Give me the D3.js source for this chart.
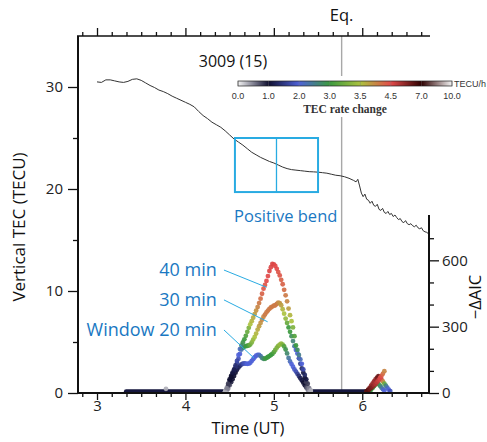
<!DOCTYPE html>
<html>
<head>
<meta charset="utf-8">
<script src="https://cdn.jsdelivr.net/npm/d3@7"></script>
<style>
  html, body { margin: 0; padding: 0; background: #fff; }
  svg { display: block; font-family: 'Open Sans', sans-serif; }
</style>
</head>
<body>
<div id="chart"></div>
<script>
// ── Data ──────────────────────────────────────────────────────
var TEC_T = [3.00,3.05,3.10,3.15,3.20,3.25,3.30,3.35,3.40,3.45,3.50,3.55,3.60,3.65,3.70,3.75,3.80,3.85,3.90,3.95,
             4.00,4.05,4.10,4.15,4.20,4.25,4.30,4.35,4.40,4.45,4.50,4.55,4.60,4.65,4.70,4.75,4.80,4.85,4.90,4.95,
             5.00,5.05,5.10,5.15,5.20,5.25,5.30,5.35,5.40,5.45,5.50,5.55,5.60,5.65,5.70,5.75,5.80,5.85,5.90,5.93,
             5.95,5.97,5.99,6.01,6.03,6.05,6.07,6.09,6.11,6.13,6.15,6.17,6.19,6.21,6.23,6.25,6.27,6.29,6.31,6.33,
             6.35,6.37,6.39,6.41,6.43,6.45,6.47,6.49,6.51,6.53,6.55,6.57,6.59,6.61,6.63,6.65,6.67,6.69,6.71,6.73,6.75];
var TEC_V = [30.5,30.45,30.7,30.7,30.6,30.5,30.45,30.55,30.75,30.8,30.65,30.4,30.15,29.95,29.7,29.55,29.35,29.1,28.9,28.7,
             28.5,28.3,28.05,27.6,27.2,26.9,26.55,26.3,26.05,25.7,25.3,24.9,24.6,24.3,23.95,23.6,23.35,23.1,22.9,22.7,
             22.55,22.35,22.15,22.0,21.9,21.85,21.8,21.75,21.7,21.68,21.65,21.6,21.55,21.45,21.35,21.3,21.2,21.05,20.85,20.7,
             20.95,20.3,19.6,19.25,19.5,19.0,18.9,18.6,18.8,18.4,18.3,18.5,18.0,17.9,18.1,17.7,17.6,17.8,17.5,17.6,
             17.3,17.45,17.2,17.0,17.1,16.8,16.7,16.9,16.6,16.5,16.6,16.4,16.3,16.45,16.2,16.1,16.2,15.9,15.8,15.75,15.6];

// -ΔAIC, one value per minute from AIC_T0
var AIC_T0 = 4.45;
var AIC40 = [0,15,35,55,70,85,100,118,138,165,192,208,222,236,252,270,288,304,318,334,350,366,382,400,420,442,465,482,500,522,
             545,562,577,575,568,555,540,525,505,485,460,435,408,375,345,318,290,250,208,188,165,145,125,100,75,55,35,15,5];
var AIC30 = [0,10,28,48,65,80,95,110,128,148,170,190,198,203,205,207,208,212,222,235,247,262,280,295,310,325,338,348,358,366,
             374,380,384,388,390,396,402,400,390,372,352,330,310,290,270,250,228,205,188,172,150,125,104,85,62,42,18,8,2];
var AIC20 = [0,0,12,28,42,55,70,85,98,108,116,122,126,127,126,125,126,130,138,146,155,162,166,165,160,152,148,148,152,156,
             160,165,170,178,188,198,206,212,216,212,204,190,172,152,136,124,112,100,90,80,70,60,50,40,28,18,8,3,0];
// TEC rate change (TECU/h) giving each dot its colour
var RATE40 = [0.3,0.5,0.8,1.0,1.0,1.1,1.2,1.4,1.7,2.0,2.2,2.6,2.9,3.0,3.1,3.2,3.3,3.5,3.6,3.7,3.8,3.9,4.0,4.1,4.2,4.3,4.4,4.4,4.5,4.5,
              4.6,4.6,4.6,4.6,4.5,4.5,4.4,4.4,4.3,4.3,4.2,4.1,4.0,3.8,3.6,3.5,3.3,3.1,3.0,2.8,2.5,2.2,2.0,1.7,1.3,1.1,0.8,0.5,0.3];
var RATE30 = [0.3,0.5,0.8,1.0,1.0,1.1,1.2,1.4,1.6,1.8,2.0,2.3,2.8,3.0,3.0,3.0,3.1,3.2,3.3,3.4,3.5,3.6,3.7,3.8,3.9,4.0,4.0,4.1,4.1,4.1,
              4.1,4.1,4.1,4.1,4.1,4.1,4.0,3.9,3.8,3.6,3.5,3.4,3.2,3.0,3.0,2.8,2.6,2.3,2.0,2.0,1.8,1.5,1.3,1.1,1.0,0.8,0.6,0.4,0.3];
var RATE20 = [0.3,0.3,0.5,0.7,0.9,1.0,1.0,1.0,1.1,1.2,1.3,1.5,1.7,1.8,1.9,2.0,2.0,2.0,2.0,2.0,2.0,2.0,2.0,2.1,2.3,2.5,2.7,2.9,3.0,3.0,
              3.0,3.0,3.0,3.1,3.2,3.3,3.3,3.4,3.4,3.3,3.1,2.9,2.7,2.4,2.2,2.0,2.0,1.9,1.8,1.6,1.4,1.2,1.1,1.0,1.0,0.8,0.6,0.4,0.3];

// small bump after the earthquake
var BUMP_T0 = 6.05;
var BUMP40 = [0,5,10,16,22,28,34,42,50,60,70,80,92];
var BUMP30 = [0,8,16,26,36,46,55,63,69,64,55,46,36,26,17,8,2];
var BUMP20 = [0,0,0,8,16,24,32,40,34,26,18,10,4];
var BRATE40 = [6.5,6.5,6.2,6.0,5.8,5.5,5.2,5.0,4.8,4.6,4.4,4.2,4.0];
var BRATE30 = [6.0,6.0,5.8,5.6,5.5,5.5,5.6,6.0,6.2,5.5,4.8,4.0,3.2,2.6,2.2,2.0,1.8];
var BRATE20 = [1.0,1.0,2.5,3.0,3.0,3.0,3.0,3.0,3.0,2.8,2.5,2.2,2.0];

var ZERO_SPANS = [[3.33, 4.45], [5.42, 6.05]];
var STRAY = [{ t: 3.78, v: 12, r: 0.3 }];

var EQ_TIME = 5.767;
var RATE_STOPS  = [0.0, 1.0, 2.0, 3.0, 3.5, 4.5, 7.0, 10.0];
var RATE_LABELS = ['0.0','1.0','2.0','3.0','3.5','4.5','7.0','10.0'];
var RATE_COLORS = ['#f4f4f4','#0f0f30','#4f62d8','#3c9a3f','#abc23f','#e24a4a','#2e0000','#f4f4f4'];

var WINDOW_LABELS = ['40 min', '30 min', 'Window 20 min'];

// ── Scales ────────────────────────────────────────────────────
var W = 487, H = 442;
var x  = d3.scaleLinear().domain([2.785, 6.755]).range([78, 429]);
var yL = d3.scaleLinear().domain([0, 35]).range([393, 36]);
var yR = d3.scaleLinear().domain([0, 805]).range([393, 215]);
var rateColor = d3.scaleLinear().domain(RATE_STOPS).range(RATE_COLORS).clamp(true);

var svg = d3.select('#chart').append('svg')
  .attr('width', W).attr('height', H);

// earthquake line
svg.append('line')
  .attr('x1', x(EQ_TIME)).attr('x2', x(EQ_TIME))
  .attr('y1', yL(35)).attr('y2', yL(0))
  .attr('stroke', '#a8a8a8').attr('stroke-width', 1.4);
svg.append('text')
  .attr('x', x(EQ_TIME)).attr('y', 21)
  .attr('text-anchor', 'middle').attr('font-size', 16.5).attr('fill', '#111')
  .text('Eq.');

// ── Colour bar ────────────────────────────────────────────────
var cbX = d3.scaleLinear().domain([0, RATE_STOPS.length - 1]).range([238, 452]);
var defs = svg.append('defs');
var grad = defs.append('linearGradient').attr('id', 'cbar');
RATE_COLORS.forEach(function(c, i) {
  grad.append('stop').attr('offset', (i / (RATE_COLORS.length - 1) * 100) + '%').attr('stop-color', c);
});
svg.append('rect').attr('x', 232).attr('y', 76).attr('width', 255).attr('height', 41).attr('fill', '#fff');
svg.append('rect')
  .attr('x', cbX(0)).attr('y', 81).attr('width', cbX(7) - cbX(0)).attr('height', 5)
  .attr('fill', 'url(#cbar)').attr('stroke', '#222').attr('stroke-width', 0.7);
svg.selectAll('.cbtick').data(RATE_LABELS).enter().append('line')
  .attr('x1', function(d, i) { return cbX(i); }).attr('x2', function(d, i) { return cbX(i); })
  .attr('y1', 81).attr('y2', 86).attr('stroke', 'rgba(120,120,120,0.6)').attr('stroke-width', 0.6);
svg.selectAll('.cblab').data(RATE_LABELS).enter().append('text')
  .attr('x', function(d, i) { return cbX(i); }).attr('y', 99)
  .attr('text-anchor', 'middle').attr('font-family', 'Liberation Sans, Arial, sans-serif')
  .attr('font-size', 9).attr('fill', '#333')
  .text(function(d) { return d; });
svg.append('text').attr('x', 454).attr('y', 86.5)
  .attr('font-family', 'Liberation Sans, Arial, sans-serif').attr('font-size', 9).attr('fill', '#333')
  .text('TECU/h');
svg.append('text').attr('x', 345).attr('y', 113)
  .attr('text-anchor', 'middle').attr('font-family', 'Liberation Serif, Times New Roman, serif')
  .attr('font-weight', 'bold').attr('font-size', 11.5).attr('fill', '#333')
  .text('TEC rate change');

svg.append('text').attr('x', 233).attr('y', 67)
  .attr('text-anchor', 'middle').attr('font-size', 16).attr('fill', '#111')
  .text('3009 (15)');

// ── TEC curve ─────────────────────────────────────────────────
var tecData = TEC_T.map(function(t, i) { return { t: t, v: TEC_V[i] }; });
svg.append('path')
  .datum(tecData)
  .attr('fill', 'none').attr('stroke', '#333').attr('stroke-width', 1)
  .attr('d', d3.line().x(function(d) { return x(d.t); }).y(function(d) { return yL(d.v); }));

// positive bend box
var BOX = { t0: 4.56, t1: 5.50, tm: 5.03, v0: 19.7, v1: 25.0 };
svg.append('rect')
  .attr('x', x(BOX.t0)).attr('y', yL(BOX.v1))
  .attr('width', x(BOX.t1) - x(BOX.t0)).attr('height', yL(BOX.v0) - yL(BOX.v1))
  .attr('fill', 'none').attr('stroke', '#29abe2').attr('stroke-width', 2);
svg.append('line')
  .attr('x1', x(BOX.tm)).attr('x2', x(BOX.tm)).attr('y1', yL(BOX.v1)).attr('y2', yL(BOX.v0))
  .attr('stroke', '#29abe2').attr('stroke-width', 1.3);
svg.append('text').attr('x', x(4.55)).attr('y', 222)
  .attr('font-size', 16.5).attr('fill', '#1a78c2')
  .text('Positive bend');

// ── −ΔAIC dots ────────────────────────────────────────────────
function series(t0, vals, rates) {
  return vals.map(function(v, i) { return { t: t0 + i / 60, v: v, r: rates[i] }; });
}
var dotLayer = svg.append('g').attr('transform', 'translate(0,-1.5)');

ZERO_SPANS.forEach(function(s) {
  dotLayer.append('line')
    .attr('x1', x(s[0])).attr('x2', x(s[1])).attr('y1', yR(0)).attr('y2', yR(0))
    .attr('stroke', '#15163e').attr('stroke-width', 4.6).attr('stroke-linecap', 'round');
});

var allSeries = [
  series(AIC_T0, AIC20, RATE20), series(AIC_T0, AIC30, RATE30), series(AIC_T0, AIC40, RATE40),
  series(BUMP_T0, BUMP20, BRATE20), series(BUMP_T0, BUMP30, BRATE30), series(BUMP_T0, BUMP40, BRATE40),
  STRAY
];
allSeries.forEach(function(s) {
  dotLayer.selectAll(null).data(s).enter().append('circle')
    .attr('cx', function(d) { return x(d.t); })
    .attr('cy', function(d) { return yR(d.v); })
    .attr('r', 2.4)
    .attr('fill', function(d) { return rateColor(d.r); })
    .attr('fill-opacity', 0.92);
});

// window labels + leaders
var LABEL_T = 4.354, LINE_T0 = 4.436;
var LABEL_V = [556, 421, 285];
var LEADER_END_T = [4.918, 4.930, 4.776];
var LEADER_END_V = [478, 322, 158];
WINDOW_LABELS.forEach(function(lab, i) {
  svg.append('line')
    .attr('x1', x(LINE_T0)).attr('y1', yR(LABEL_V[i]))
    .attr('x2', x(LEADER_END_T[i])).attr('y2', yR(LEADER_END_V[i]))
    .attr('stroke', '#29abe2').attr('stroke-width', 1);
  svg.append('text')
    .attr('x', x(LABEL_T)).attr('y', yR(LABEL_V[i]))
    .attr('dy', '0.35em').attr('text-anchor', 'end')
    .attr('font-size', 18).attr('fill', '#1a78c2')
    .text(lab);
});

// ── Axes ──────────────────────────────────────────────────────
function addAxis(axisFn, scale, pos, majors, minors, majLen, minLen, padding, fmt) {
  var gMin = svg.append('g').attr('transform', pos)
    .call(axisFn(scale).tickValues(minors).tickSize(minLen).tickFormat(''));
  gMin.select('.domain').remove();
  var gMaj = svg.append('g').attr('transform', pos)
    .call(axisFn(scale).tickValues(majors).tickSize(majLen).tickPadding(padding).tickFormat(fmt));
  gMaj.select('.domain').remove();
  [gMin, gMaj].forEach(function(g) {
    g.selectAll('line').attr('stroke', '#111').attr('stroke-width', 1.3);
    g.selectAll('text').attr('font-family', 'Open Sans, sans-serif')
      .attr('font-size', 15).attr('fill', '#222');
  });
}
var hourTicks = [3, 4, 5, 6];
var minuteTicks = d3.range(17, 41).map(function(k) { return k / 6; })
  .filter(function(v) { return Math.abs(v - Math.round(v)) > 0.01; });
var fmtInt = d3.format('d');
var blank = function() { return ''; };

addAxis(d3.axisBottom, x, 'translate(0,393)', hourTicks, minuteTicks, 7, 4, 0.5, fmtInt);
addAxis(d3.axisTop, x, 'translate(0,36)', hourTicks, minuteTicks, 8, 4, 2, blank);
addAxis(d3.axisLeft, yL, 'translate(78,0)', [0, 10, 20, 30], [5, 15, 25], 10, 5, 5, fmtInt);
addAxis(d3.axisRight, yR, 'translate(429,0)', [0, 300, 600], [100, 200, 400, 500, 700], 10, 5, 3, fmtInt);

// frame lines
svg.append('line').attr('x1', 78).attr('x2', 78).attr('y1', 36).attr('y2', 394)
  .attr('stroke', '#111').attr('stroke-width', 2);
svg.append('line').attr('x1', 77).attr('x2', 430).attr('y1', 393).attr('y2', 393)
  .attr('stroke', '#111').attr('stroke-width', 2);
svg.append('line').attr('x1', 429).attr('x2', 429).attr('y1', yR(805)).attr('y2', 394)
  .attr('stroke', '#111').attr('stroke-width', 2);
svg.append('line').attr('x1', 77).attr('x2', 430).attr('y1', 36).attr('y2', 36)
  .attr('stroke', '#111').attr('stroke-width', 1.5);

// axis titles
svg.append('text').attr('x', 248).attr('y', 434)
  .attr('text-anchor', 'middle').attr('font-size', 16.5).attr('fill', '#111')
  .text('Time (UT)');
svg.append('text').attr('transform', 'translate(25,227) rotate(-90)')
  .attr('text-anchor', 'middle').attr('font-size', 17).attr('fill', '#111')
  .text('Vertical TEC (TECU)');
svg.append('text').attr('transform', 'translate(481,297) rotate(-90)')
  .attr('text-anchor', 'middle').attr('font-size', 16.5).attr('fill', '#111')
  .text('\u2212\u0394AIC');
</script>
</body>
</html>
